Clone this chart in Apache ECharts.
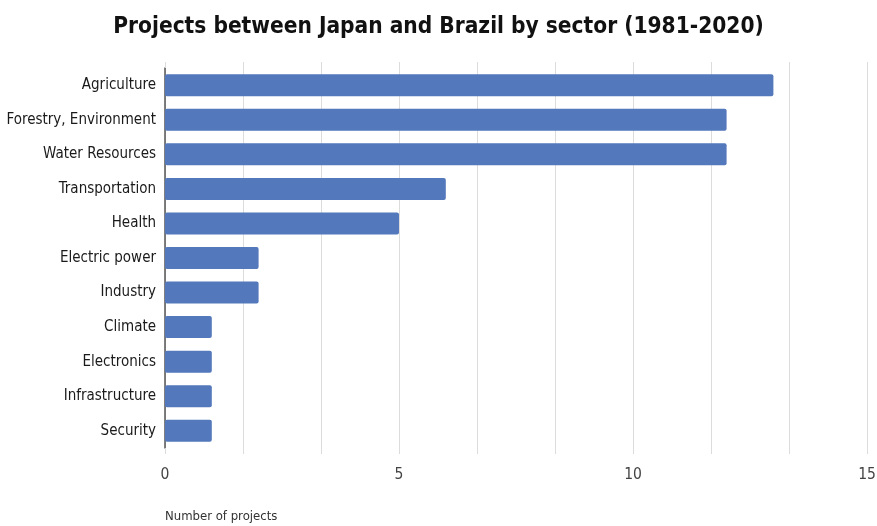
<!DOCTYPE html>
<html><head><meta charset="utf-8">
<script src="https://cdn.jsdelivr.net/npm/echarts@6/dist/echarts.min.js"></script>
<style>html,body{margin:0;padding:0;background:#fff}#c{width:877px;height:526px}</style>
</head><body><div id="c"></div>
<script>
var categories = ["Agriculture","Forestry, Environment","Water Resources","Transportation","Health","Electric power","Industry","Climate","Electronics","Infrastructure","Security"];
var values = [13,12,12,6,5,2,2,1,1,1,1];
var tickLabels = [0,5,10,15];
var FONT = '"Liberation Sans Narrow","DejaVu Sans Condensed","Liberation Sans",sans-serif';
var chart = echarts.init(document.getElementById('c'), null, {renderer:'canvas'});
chart.setOption({
  animation:false,
  title:{text:'Projects between Japan and Brazil by sector (1981-2020)',left:'center',top:11,
    textStyle:{fontFamily:FONT,fontSize:22.5,fontWeight:'bold',color:'#111'}},
  grid:{left:165,right:10,top:68,bottom:78,containLabel:false,outerBoundsMode:'none'},
  xAxis:[{type:'value',min:0,max:15,interval:5/3,
    name:'Number of projects',nameLocation:'start',nameGap:0,
    nameTextStyle:{fontFamily:FONT,fontSize:13,color:'#333',align:'left',verticalAlign:'top',padding:[62,0,0,0]},
    axisLine:{show:false},axisTick:{show:true,length:6,lineStyle:{color:'#dcdcdc',width:1}},
    splitLine:{show:true,lineStyle:{color:'#dcdcdc',width:1}},
    axisLabel:{fontFamily:FONT,fontSize:15.5,color:'#444',margin:19,
      formatter:function(v){var r=Math.round(v);return (Math.abs(v-r)<1e-6 && tickLabels.indexOf(r)>=0)?String(r):'';}}},
   {type:'value',position:'top',min:0,max:15,interval:5/3,
    axisLine:{show:false},axisTick:{show:true,length:6,lineStyle:{color:'#dcdcdc',width:1}},
    splitLine:{show:false},axisLabel:{show:false}}],
  yAxis:{type:'category',data:categories,inverse:true,
    axisLine:{show:true,lineStyle:{color:'#555',width:1.5}},axisTick:{show:false},
    axisLabel:{fontFamily:FONT,fontSize:15,color:'#1a1a1a',margin:9}},
  series:[{type:'bar',data:values,barWidth:22,xAxisIndex:0,
    itemStyle:{color:'#5378bb',borderRadius:2}}]
});
</script></body></html>
